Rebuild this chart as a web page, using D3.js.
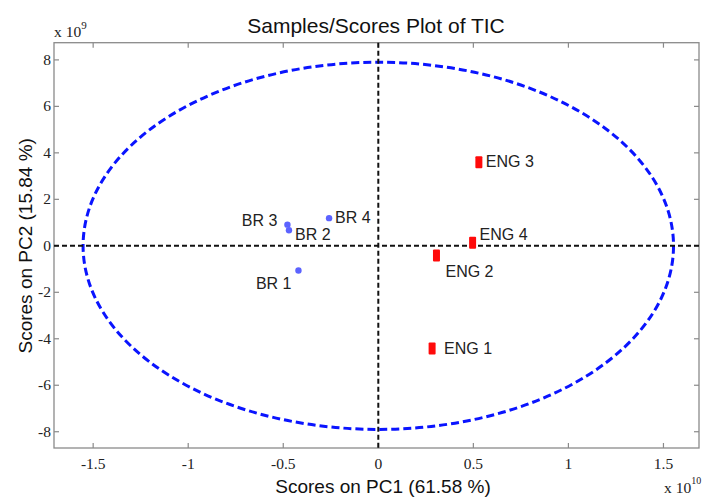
<!DOCTYPE html>
<html>
<head>
<meta charset="utf-8">
<script src="https://cdn.jsdelivr.net/npm/d3@7"></script>
<style>
  body { margin: 0; background: #fff; }
  svg { display: block; }
  .tick-label { font-family: "Liberation Serif", "DejaVu Serif", serif; font-size: 15.5px; fill: #222; }
  .sample-label { font-family: "Liberation Sans", Arial, sans-serif; font-size: 16px; fill: #222; }
  .axis-title { font-family: "Liberation Sans", Arial, sans-serif; font-size: 19px; fill: #111; }
  .chart-title { font-family: "Liberation Sans", Arial, sans-serif; font-size: 21px; fill: #111; }
</style>
</head>
<body>
<div id="chart"></div>
<script>
// scores, PC1 in units of 1e10, PC2 in units of 1e9
var brNames = ["BR 1", "BR 2", "BR 3", "BR 4"];
var brPC1 = [-0.42, -0.47, -0.478, -0.259];
var brPC2 = [-1.06, 0.67, 0.91, 1.19];

var engNames = ["ENG 1", "ENG 2", "ENG 3", "ENG 4"];
var engPC1 = [0.283, 0.306, 0.529, 0.496];
var engPC2 = [-4.42, -0.42, 3.6, 0.13];

// 95% confidence ellipse semi axes
var ellipseRx = 1.553;
var ellipseRy = 7.9;

var xTicks = [-1.5, -1, -0.5, 0, 0.5, 1, 1.5];
var yTicks = [-8, -6, -4, -2, 0, 2, 4, 6, 8];

// label placement (pixels relative to the marker)
var labelOffsets = {
    "BR 1": [-7, 19, "end"], "BR 2": [6, 10, "start"], "BR 3": [-10, 1, "end"], "BR 4": [6, 5, "start"],
    "ENG 1": [12, 5, "start"], "ENG 2": [9, 21, "start"], "ENG 3": [7, 5, "start"], "ENG 4": [7, -3, "start"]
};

var width = 704, height = 498;
var margin = {top: 42.7, right: 5, bottom: 50, left: 54};

var svg = d3.select("#chart").append("svg")
    .attr("width", width)
    .attr("height", height);

var x = d3.scaleLinear().domain([-1.706, 1.687]).range([margin.left, width - margin.right]);
var y = d3.scaleLinear().domain([-8.7, 8.74]).range([height - margin.bottom, margin.top]);

var x0 = x.range()[0], x1 = x.range()[1], y0 = y.range()[1], y1 = y.range()[0];
var tickLen = 5;

// frame
svg.append("rect")
    .attr("x", x0).attr("y", y0)
    .attr("width", x1 - x0).attr("height", y1 - y0)
    .attr("fill", "none").attr("stroke", "#8a8a8a").attr("stroke-width", 1.3);

// ticks on all four sides, pointing inward
var ticks = svg.append("g").attr("stroke", "#8a8a8a").attr("stroke-width", 1.2);
xTicks.forEach(function(t){
    ticks.append("line").attr("x1", x(t)).attr("x2", x(t)).attr("y1", y1).attr("y2", y1 - tickLen);
    ticks.append("line").attr("x1", x(t)).attr("x2", x(t)).attr("y1", y0).attr("y2", y0 + tickLen);
});
yTicks.forEach(function(t){
    ticks.append("line").attr("y1", y(t)).attr("y2", y(t)).attr("x1", x0).attr("x2", x0 + tickLen);
    ticks.append("line").attr("y1", y(t)).attr("y2", y(t)).attr("x1", x1).attr("x2", x1 - tickLen);
});

svg.selectAll(".xlab").data(xTicks).enter().append("text")
    .attr("class", "tick-label")
    .attr("x", function(d){ return x(d); })
    .attr("y", 469)
    .attr("text-anchor", "middle")
    .text(function(d){ return d; });

svg.selectAll(".ylab").data(yTicks).enter().append("text")
    .attr("class", "tick-label")
    .attr("x", x0 - 3)
    .attr("y", function(d){ return y(d) + 5; })
    .attr("text-anchor", "end")
    .text(function(d){ return d; });

// exponent labels
var e9 = svg.append("text").attr("class", "tick-label").attr("x", 54).attr("y", 37);
e9.append("tspan").text("x 10");
e9.append("tspan").attr("dy", -8).style("font-size", "11px").text("9");

var e10 = svg.append("text").attr("class", "tick-label").attr("x", 664).attr("y", 493);
e10.append("tspan").text("x 10");
e10.append("tspan").attr("dy", -9).style("font-size", "10px").text("10");

// confidence ellipse
svg.append("ellipse")
    .attr("cx", x(0)).attr("cy", y(0))
    .attr("rx", x(ellipseRx) - x(0))
    .attr("ry", y(0) - y(ellipseRy))
    .attr("fill", "none")
    .attr("stroke", "#0a14ff")
    .attr("stroke-width", 3)
    .attr("stroke-dasharray", "8,4");

// zero lines
svg.append("line")
    .attr("x1", x(0)).attr("x2", x(0)).attr("y1", y0).attr("y2", y1)
    .attr("stroke", "#111").attr("stroke-width", 2).attr("stroke-dasharray", "5,3");
svg.append("line")
    .attr("x1", x0).attr("x2", x1).attr("y1", y(0)).attr("y2", y(0))
    .attr("stroke", "#111").attr("stroke-width", 2).attr("stroke-dasharray", "5,3");

// BR samples
var brData = brNames.map(function(n, i){ return {name: n, pc1: brPC1[i], pc2: brPC2[i]}; });
svg.selectAll(".br").data(brData).enter().append("circle")
    .attr("cx", function(d){ return x(d.pc1); })
    .attr("cy", function(d){ return y(d.pc2); })
    .attr("r", 3.2)
    .attr("fill", "#5c63ff");

// ENG samples
var engData = engNames.map(function(n, i){ return {name: n, pc1: engPC1[i], pc2: engPC2[i]}; });
svg.selectAll(".eng").data(engData).enter().append("rect")
    .attr("x", function(d){ return x(d.pc1) - 3.5; })
    .attr("y", function(d){ return y(d.pc2) - 6; })
    .attr("width", 7)
    .attr("height", 12)
    .attr("rx", 1)
    .attr("fill", "#ff0a0a");

// sample labels
svg.selectAll(".slab").data(brData.concat(engData)).enter().append("text")
    .attr("class", "sample-label")
    .attr("x", function(d){ return x(d.pc1) + labelOffsets[d.name][0]; })
    .attr("y", function(d){ return y(d.pc2) + labelOffsets[d.name][1]; })
    .attr("text-anchor", function(d){ return labelOffsets[d.name][2]; })
    .text(function(d){ return d.name; });

// titles
svg.append("text")
    .attr("class", "chart-title")
    .attr("x", 376).attr("y", 33)
    .attr("text-anchor", "middle")
    .text("Samples/Scores Plot of TIC");

svg.append("text")
    .attr("class", "axis-title")
    .attr("x", 383).attr("y", 493)
    .attr("text-anchor", "middle")
    .text("Scores on PC1 (61.58 %)");

svg.append("text")
    .attr("class", "axis-title")
    .attr("transform", "translate(32," + y(0) + ") rotate(-90)")
    .attr("text-anchor", "middle")
    .text("Scores on PC2 (15.84 %)");
</script>
</body>
</html>
